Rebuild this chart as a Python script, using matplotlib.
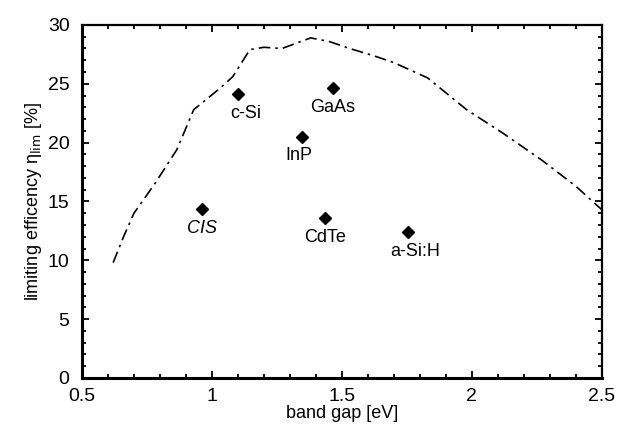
import numpy as np
from matplotlib import pyplot as plt
from matplotlib.ticker import MultipleLocator

plt.rcParams['font.family'] = ['Liberation Sans', 'DejaVu Sans']

# limiting efficiency curve (dash-dot)
gap_curve = [0.62, 0.66, 0.70, 0.78, 0.865, 0.93, 1.03, 1.08, 1.146, 1.20, 1.27, 1.38,
             1.45, 1.53, 1.62, 1.70, 1.83, 1.98, 2.12, 2.27, 2.40, 2.50]
eff_curve = [9.8, 12.0, 14.0, 16.5, 19.4, 22.8, 24.6, 25.6, 27.9, 28.1, 28.0, 28.9,
             28.6, 28.0, 27.4, 26.8, 25.5, 22.8, 20.8, 18.5, 16.3, 14.3]

# cell materials
materials = ['c-Si', 'GaAs', 'InP', 'CIS', 'CdTe', 'a-Si:H']
gap_cells = [1.10, 1.465, 1.346, 0.96, 1.435, 1.754]
eff_cells = [24.1, 24.6, 20.5, 14.35, 13.6, 12.4]
label_dx = [0.03, 0.0, -0.01, 0.0, 0.0, 0.03]
italic = [False, False, False, True, False, False]

fig = plt.figure(figsize=(6.21, 4.30), dpi=100)
ax = fig.add_axes([0.132, 0.121, 0.837, 0.821])

ax.plot(gap_curve, eff_curve, ls=(0, (7, 3, 1.5, 3)), c='k', lw=1.2)
ax.plot(gap_cells, eff_cells, 'D', c='k', ms=6.5)

for name, x, y, dx, it in zip(materials, gap_cells, eff_cells, label_dx, italic):
    ax.annotate(name, (x + dx, y - 0.9), ha='center', va='top', fontsize=13,
                style='italic' if it else 'normal')

ax.set_xlim(0.5, 2.5)
ax.set_ylim(0, 30)
ax.xaxis.set_major_locator(MultipleLocator(0.5))
ax.xaxis.set_minor_locator(MultipleLocator(0.1))
ax.yaxis.set_major_locator(MultipleLocator(5))
ax.yaxis.set_minor_locator(MultipleLocator(1))
ax.xaxis.set_major_formatter(plt.FuncFormatter(lambda v, p: '{:g}'.format(v)))
ax.tick_params(which='both', direction='in', top=True, right=True, labelsize=14, width=1.3)
ax.tick_params(which='major', length=5)
ax.tick_params(which='minor', length=3)
ax.tick_params(axis='x', which='major', pad=7)
ax.tick_params(axis='y', which='major', pad=9)
for side in ['left', 'bottom']:
    ax.spines[side].set_linewidth(2.2)
for side in ['top', 'right']:
    ax.spines[side].set_linewidth(1.6)

ax.set_xlabel('band gap [eV]', fontsize=13, labelpad=0)
ax.set_ylabel('limiting efficency η$_{\\rm lim}$ [%]', fontsize=13, labelpad=3)

fig.savefig('out.png', dpi=100)
